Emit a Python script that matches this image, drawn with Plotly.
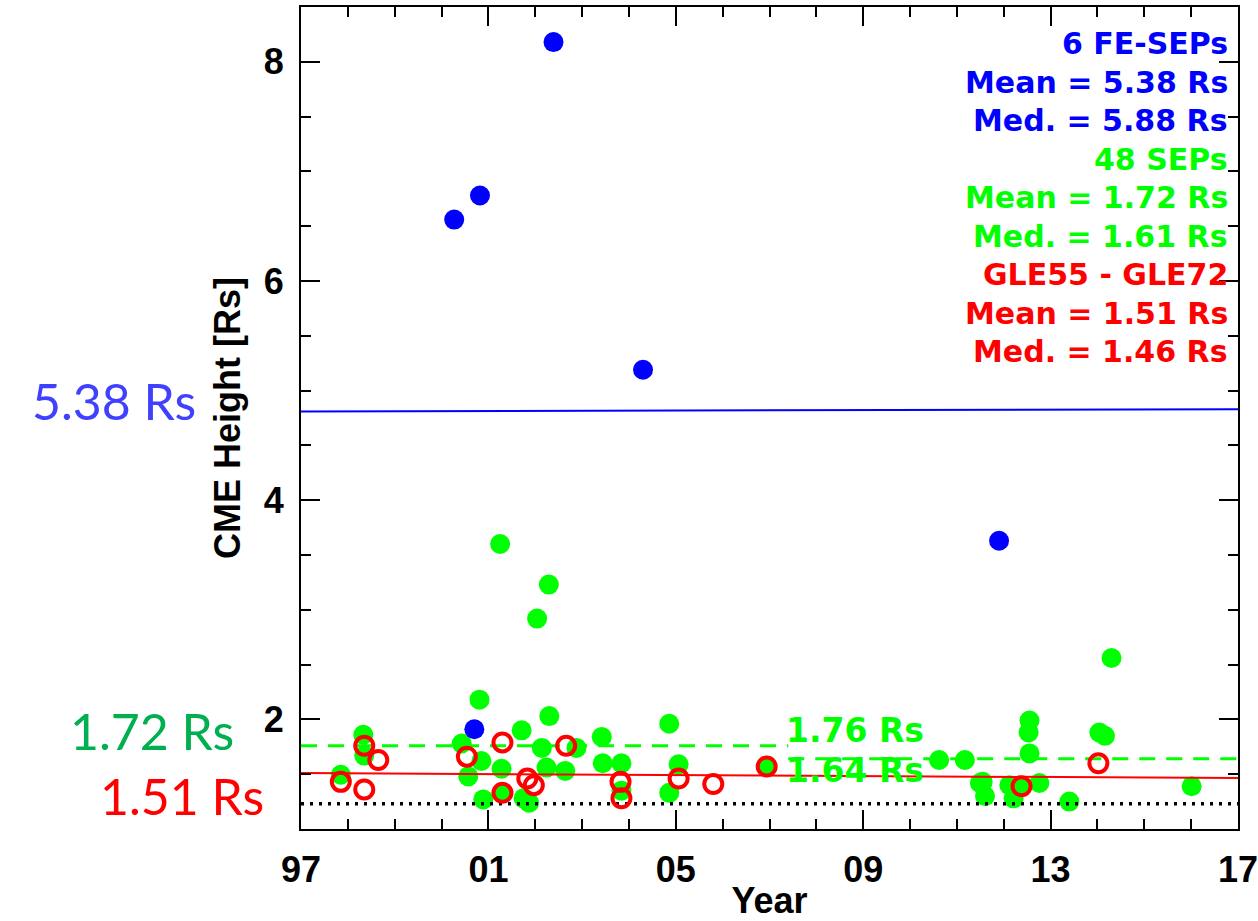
import plotly.graph_objects as go

# Fast-event SEPs (blue)
fe_year = [2000.27, 2000.82, 2002.39, 2004.30, 2011.90, 2000.70]
fe_height = [6.56, 6.78, 8.18, 5.19, 3.63, 1.91]

# All SEP events (green)
sep_year = [1997.85, 1998.33, 1998.35, 2000.43, 2000.57, 2000.81, 2000.85, 2000.89,
            2001.28, 2001.30, 2001.71, 2001.75, 2001.87, 2002.14, 2002.24, 2002.30,
            2002.64, 2002.88, 2003.42, 2003.44, 2003.84, 2003.84, 2004.86, 2005.06,
            2004.86, 2006.95, 2014.30, 2012.55, 2012.53, 2012.55, 2014.04, 2014.16,
            2010.62, 2011.17, 2011.49, 2011.55, 2011.60, 2012.12, 2012.21, 2012.38,
            2012.76, 2013.40, 2016.01, 2001.25, 2002.29, 2002.04]
sep_height = [1.495, 1.86, 1.67, 1.78, 1.48, 2.18, 1.62, 1.27,
              1.55, 1.33, 1.90, 1.28, 1.24, 1.74, 1.56, 2.03,
              1.53, 1.74, 1.84, 1.60, 1.60, 1.35, 1.96, 1.59,
              1.33, 1.57, 2.56, 1.99, 1.88, 1.69, 1.88, 1.85,
              1.63, 1.63, 1.42, 1.43, 1.30, 1.40, 1.28, 1.39,
              1.42, 1.25, 1.39, 3.60, 3.23, 2.92]

# Ground level enhancements GLE55 - GLE72 (red open circles)
gle_year = [1997.85, 1998.35, 1998.35, 1998.65, 2000.54, 2001.30, 2001.30, 2001.83,
            2001.97, 2002.66, 2003.82, 2003.84, 2005.06, 2005.80, 2006.94, 2012.38,
            2014.02]
gle_height = [1.43, 1.76, 1.36, 1.63, 1.66, 1.79, 1.33, 1.46,
              1.40, 1.76, 1.43, 1.28, 1.46, 1.41, 1.57, 1.39,
              1.60]

# Trend / reference lines
fe_fit_year = [1997, 2017]
fe_fit = [4.81, 4.83]
gle_fit_year = [1997, 2017]
gle_fit = [1.51, 1.465]
sep_early_year = [1997, 2007.4]
sep_early = [1.76, 1.76]
sep_late_year = [2007.4, 2017]
sep_late = [1.64, 1.64]
floor_year = [1997, 2017]
floor_height = [1.23, 1.23]

tick_years = [1997, 2001, 2005, 2009, 2013, 2017]
tick_text = ["97", "01", "05", "09", "13", "17"]

BLUE = "#0000FF"
GREEN = "#00FF00"
RED = "#FF0000"

fig = go.Figure()

fig.add_trace(go.Scatter(x=sep_year, y=sep_height, mode="markers",
                         marker=dict(color=GREEN, size=20, line=dict(width=0))))
fig.add_trace(go.Scatter(x=fe_year, y=fe_height, mode="markers",
                         marker=dict(color=BLUE, size=20, line=dict(width=0))))

fig.add_trace(go.Scatter(x=floor_year, y=floor_height, mode="lines",
                         line=dict(color="black", width=3.5, dash="3px,6px")))
fig.add_trace(go.Scatter(x=sep_early_year, y=sep_early, mode="lines",
                         line=dict(color=GREEN, width=3, dash="16px,11px")))
fig.add_trace(go.Scatter(x=sep_late_year, y=sep_late, mode="lines",
                         line=dict(color=GREEN, width=3, dash="16px,11px")))
fig.add_trace(go.Scatter(x=fe_fit_year, y=fe_fit, mode="lines",
                         line=dict(color=BLUE, width=2)))
fig.add_trace(go.Scatter(x=gle_fit_year, y=gle_fit, mode="lines",
                         line=dict(color=RED, width=2)))

fig.add_trace(go.Scatter(x=gle_year, y=gle_height, mode="markers",
                         marker=dict(symbol="circle-open", color=RED, size=18,
                                     line=dict(width=4, color=RED))))

# Statistics block, top right
stats = [
    ("6 FE-SEPs", BLUE), ("Mean = 5.38 Rs", BLUE), ("Med. = 5.88 Rs", BLUE),
    ("48 SEPs", GREEN), ("Mean = 1.72 Rs", GREEN), ("Med. = 1.61 Rs", GREEN),
    ("GLE55 - GLE72", RED), ("Mean = 1.51 Rs", RED), ("Med. = 1.46 Rs", RED),
]
stat_font = dict(family="DejaVu Sans", size=30, weight="bold")
for i, (txt, col) in enumerate(stats):
    fig.add_annotation(x=0.991, xref="paper", xanchor="right",
                       y=8.164 - i * 0.351, yref="y", yanchor="middle",
                       text=txt, showarrow=False,
                       font=dict(color=col, **stat_font))

# Period means of the SEP sample
period_font = dict(family="DejaVu Sans", size=33, weight="bold", color=GREEN)
fig.add_annotation(x=2007.3, xref="x", xanchor="left", y=1.90, yref="y",
                   yanchor="middle", text="1.76 Rs", showarrow=False,
                   font=period_font)
fig.add_annotation(x=2007.3, xref="x", xanchor="left", y=1.535, yref="y",
                   yanchor="middle", text="1.64 Rs", showarrow=False,
                   font=period_font)

# Mean values written beside the axis
side_font = dict(family="Lato", size=50)
for txt, col, xp, yv in [("5.38 Rs", "#4040FF", -0.111, 4.904),
                         ("1.72 Rs", "#00B050", -0.0704, 1.89),
                         ("1.51 Rs", RED, -0.0384, 1.30)]:
    fig.add_annotation(x=xp, xref="paper", xanchor="right", y=yv, yref="y",
                       yanchor="middle", text=txt, showarrow=False,
                       borderpad=0, font=dict(color=col, **side_font))

axis_font = dict(family="Liberation Sans, Arial", size=36, color="black", weight="bold")

fig.update_xaxes(range=[1997, 2017], tickmode="array", tickvals=tick_years,
                 ticktext=tick_text, ticks="inside", ticklen=19, tickwidth=2,
                 tickcolor="black", showline=True, linecolor="black", linewidth=2,
                 mirror="allticks", showgrid=False, zeroline=False, automargin=False,
                 tickfont=axis_font, ticklabelstandoff=8, ticklabeloverflow="allow",
                 minor=dict(dtick=1, tick0=1997, ticks="inside", ticklen=10,
                            tickwidth=2, tickcolor="black", showgrid=False),
                 title=dict(text="Year", font=axis_font, standoff=4))
fig.update_yaxes(range=[1.0, 8.5], tickmode="array", tickvals=[2, 4, 6, 8],
                 ticks="inside", ticklen=19, tickwidth=2, tickcolor="black",
                 showline=True, linecolor="black", linewidth=2, mirror="allticks",
                 showgrid=False, zeroline=False, tickfont=axis_font, automargin=False,
                 ticklabelstandoff=8,
                 minor=dict(dtick=0.5, tick0=1.0, ticks="inside", ticklen=10,
                            tickwidth=2, tickcolor="black", showgrid=False),
                 title=dict(text="CME Height [Rs]", font=axis_font, standoff=12))

fig.update_layout(width=1258, height=921, showlegend=False,
                  margin=dict(l=301, r=20, t=7, b=92),
                  plot_bgcolor="white", paper_bgcolor="white")

fig.write_html("out.html")
